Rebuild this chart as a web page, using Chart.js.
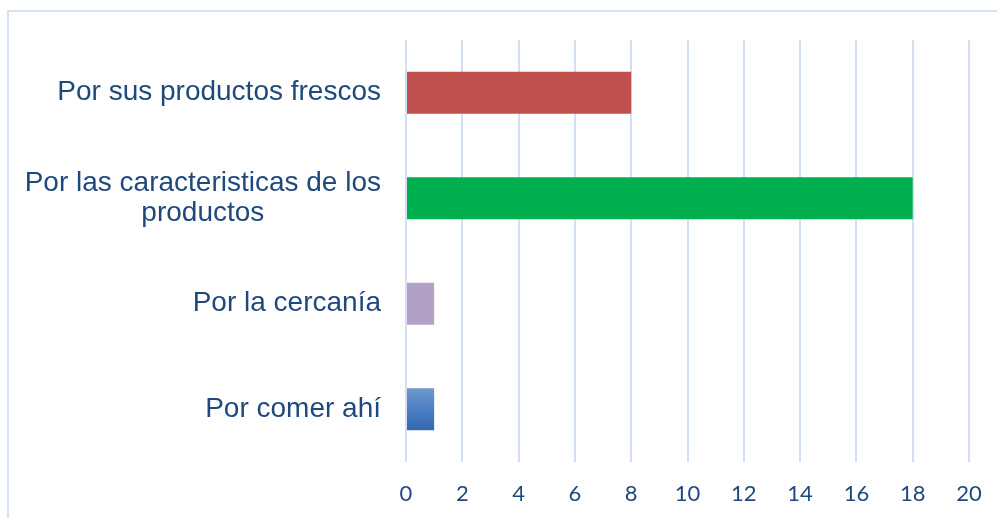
<!DOCTYPE html>
<html>
<head>
<meta charset="utf-8">
<script src="https://cdn.jsdelivr.net/npm/chart.js@4/dist/chart.umd.min.js"></script>
<style>
  html, body { margin: 0; padding: 0; background: #fff; }
  #wrap { width: 997px; height: 518px; position: relative; }
</style>
</head>
<body>
<div id="wrap"><canvas id="c" width="997" height="518"></canvas></div>
<script>
// data
const categories = [
  ["Por sus productos frescos"],
  ["Por las caracteristicas de los", "productos"],
  ["Por la cercanía"],
  ["Por comer ahí"],
];
const values = [8, 18, 1, 1];
const barColors = ["#c0504d", "#00b050", "#b2a1c7", "#4a7cc2"];
const xTicks = [0, 2, 4, 6, 8, 10, 12, 14, 16, 18, 20];

const textColor = "#1f497d";
const gridColor = "#d3e0f3";

// light frame round the chart (only top and left show in the shot)
const framePlugin = {
  id: "frame",
  beforeDraw(chart) {
    const { ctx } = chart;
    ctx.save();
    ctx.strokeStyle = "#d6e2f4";
    ctx.lineWidth = 2;
    ctx.strokeRect(8, 11, 1200, 800);
    ctx.restore();
  },
};

// category labels: block right aligned, lines centred inside the block
const catLabels = {
  id: "catLabels",
  afterDraw(chart) {
    const { ctx, chartArea } = chart;
    const y = chart.scales.y;
    ctx.save();
    ctx.font = "28px 'Liberation Sans', Arial, sans-serif";
    ctx.fillStyle = textColor;
    ctx.textAlign = "center";
    ctx.textBaseline = "middle";
    const right = chartArea.left - 25;
    const lh = 30;
    categories.forEach((lines, i) => {
      const cy = y.getPixelForTick(i);
      const w = Math.max(...lines.map((l) => ctx.measureText(l).width));
      const cx = right - w / 2;
      lines.forEach((l, j) => {
        ctx.fillText(l, cx, cy + (j - (lines.length - 1) / 2) * lh);
      });
    });
    ctx.restore();
  },
};

function barColor(context) {
  const i = context.dataIndex;
  const chart = context.chart;
  if (i === 3 && chart.chartArea) {
    const yp = chart.scales.y.getPixelForValue(i);
    const g = chart.ctx.createLinearGradient(0, yp - 21, 0, yp + 21);
    g.addColorStop(0, "#7098ce");
    g.addColorStop(0.5, "#4a7fc4");
    g.addColorStop(1, "#3667b0");
    return g;
  }
  return barColors[i];
}

new Chart(document.getElementById("c"), {
  type: "bar",
  data: {
    labels: categories,
    datasets: [
      {
        data: values,
        backgroundColor: barColor,
        borderWidth: 0,
        barPercentage: 0.8,
        categoryPercentage: 0.5,
      },
    ],
  },
  options: {
    indexAxis: "y",
    responsive: false,
    animation: false,
    layout: { padding: { top: 40, right: 28, left: 0, bottom: 0 } },
    plugins: {
      legend: { display: false },
      tooltip: { enabled: false },
    },
    scales: {
      x: {
        min: 0,
        max: 20,
        afterBuildTicks(scale) {
          scale.ticks = xTicks.map((v) => ({ value: v }));
        },
        afterFit(scale) {
          scale.height = 56;
          scale.paddingLeft = 0;
          scale.paddingRight = 0;
        },
        grid: {
          color: gridColor,
          lineWidth: 2,
          drawTicks: false,
        },
        border: { display: false },
        ticks: {
          color: textColor,
          padding: 19,
          font: { family: "Lato, 'Open Sans', sans-serif", size: 22 },
        },
      },
      y: {
        afterFit(scale) {
          scale.width = 406;
        },
        grid: { display: false },
        border: { display: false },
        ticks: { display: false },
      },
    },
  },
  plugins: [framePlugin, catLabels],
});
</script>
</body>
</html>
